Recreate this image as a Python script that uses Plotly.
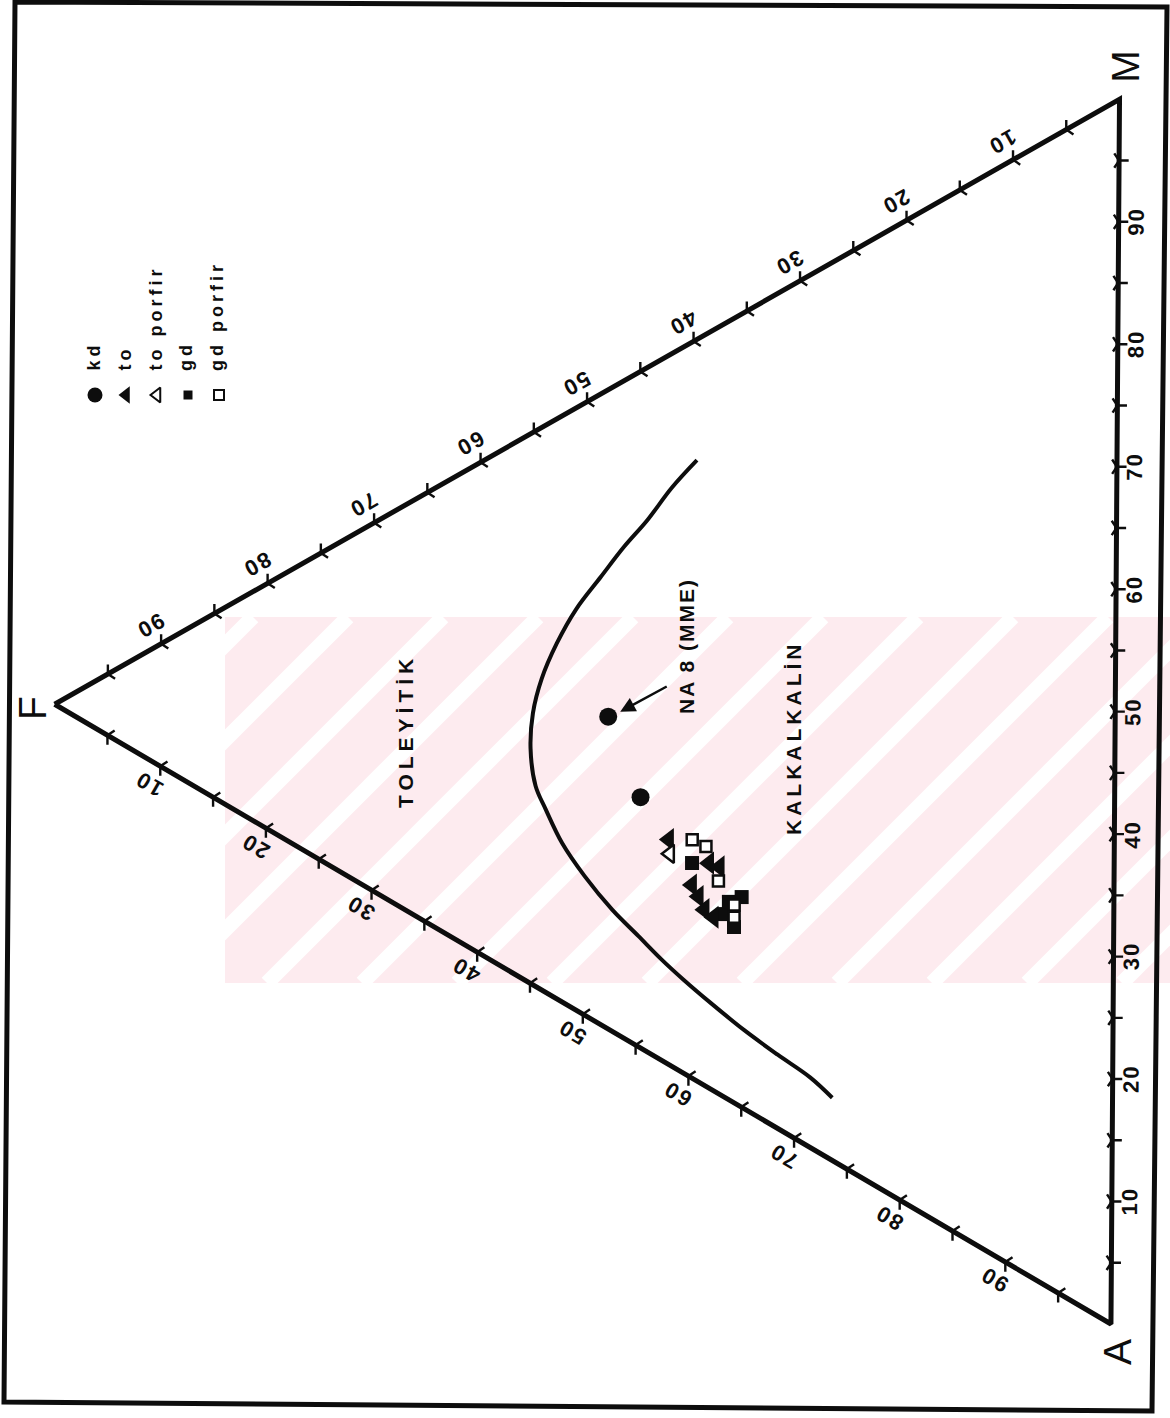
import math
import plotly.graph_objects as go

# ---------------- data (A, F, M in %) ----------------
CURVE_A = [9.9, 11.0, 12.5, 13.6, 15.0, 16.5, 18.4, 20.6, 23.0, 25.8, 29.1, 31.4, 35.0, 38.8,
           42.8, 46.2, 49.2, 51.9, 55.1, 58.8, 62.4, 65.8, 68.4]
CURVE_F = [39.6, 42.0, 44.2, 46.4, 48.6, 50.9, 52.7, 54.1, 54.9, 55.1, 54.6, 53.6, 52.0, 49.9,
           47.3, 44.8, 42.6, 40.5, 37.9, 34.8, 31.6, 28.5, 26.4]
CURVE_M = [50.5, 47.1, 43.2, 40.0, 36.4, 32.6, 28.9, 25.3, 22.1, 19.1, 16.3, 14.9, 12.9, 11.3,
           9.9, 9.0, 8.2, 7.6, 7.0, 6.4, 6.0, 5.7, 5.1]

KD_A = [26.8, 34.9]
KD_F = [47.8, 44.7]
KD_M = [25.4, 20.4]

TO_A = [39.7, 43.5, 44.3, 44.5, 45.8, 47.1, 48.1]
TO_F = [42.0, 38.2, 37.2, 39.8, 39.2, 38.6, 37.7]
TO_M = [18.3, 18.3, 18.5, 15.7, 15.1, 14.3, 14.1]

TOP_A = [40.9]
TOP_F = [41.9]
TOP_M = [17.2]

GD_A = [42.7, 47.8, 48.4, 49.9, 47.6]
GD_F = [39.8, 35.1, 36.7, 35.8, 36.3]
GD_M = [17.5, 17.1, 14.9, 14.3, 16.1]

GDP_A = [40.8, 42.0, 45.4, 48.1, 49.1]
GDP_F = [39.8, 38.5, 37.3, 35.8, 35.8]
GDP_M = [19.4, 19.5, 17.3, 16.1, 15.1]

TICK_STEPS = [5, 10, 15, 20, 25, 30, 35, 40, 45, 50, 55, 60, 65, 70, 75, 80, 85, 90, 95]
TICK_LABELS = [10, 20, 30, 40, 50, 60, 70, 80, 90]
VERTEX_NAMES = {"A": "A", "F": "F", "M": "M"}
LEGEND_NAMES = ["kd", "to", "to porfir", "gd", "gd porfir"]
REGION_THOL = "TOLEYİTİK"
REGION_CALC = "KALKALKALİN"
SAMPLE_NOTE = "NA 8 (MME)"

# ---------------- projection (ternary -> page, diagram rotated 90 deg) ----------------
W, H = 1170, 1418
SQ3 = math.sqrt(3)
SCALE = 1224.7
CX, CY = 761.7, 709.2
TILT = math.radians(0.4)


def project(a, f, m):
    t = a + f + m
    fn, mn = f / t, m / t
    u = mn + fn / 2.0
    v = fn * SQ3 / 2.0
    du, dv = u - 0.5, v - SQ3 / 6.0
    x0, y0 = -dv * SCALE, -du * SCALE
    x = x0 * math.cos(TILT) - y0 * math.sin(TILT)
    y = x0 * math.sin(TILT) + y0 * math.cos(TILT)
    return CX + x, CY + y


def proj_list(A, F, M):
    pts = [project(a, f, m) for a, f, m in zip(A, F, M)]
    return [p[0] for p in pts], [p[1] for p in pts]


FONT = "Liberation Sans, Arial, sans-serif"
INK = "#0d0d0d"

fig = go.Figure()

# ---------------- faint watermark (pink striped band) ----------------
shapes = []
WM_X0, WM_X1, WM_Y0, WM_Y1 = 225, 1170, 617, 983
shapes.append(dict(type="rect", xref="x", yref="y", x0=WM_X0, x1=WM_X1, y0=WM_Y0, y1=WM_Y1,
                   fillcolor="#fdebef", line=dict(width=0), layer="below"))
for k in range(-5, 11):
    c = 1250 + 95 * k
    shapes.append(dict(type="line", xref="x", yref="y", x0=c - WM_Y1, y0=WM_Y1, x1=c - WM_Y0, y1=WM_Y0,
                       line=dict(color="white", width=15), layer="below"))

# outer frame of the scanned page
shapes.append(dict(type="path", xref="x", yref="y",
                   path="M 15,2 L 1167,7 L 1152,1411 L 4,1402 Z",
                   line=dict(color=INK, width=5), layer="above"))

# ---------------- triangle ----------------
VA = project(100, 0, 0)
VF = project(0, 100, 0)
VM = project(0, 0, 100)
CEN = project(1, 1, 1)
fig.add_trace(go.Scatter(x=[VF[0], VM[0], VA[0], VF[0]], y=[VF[1], VM[1], VA[1], VF[1]],
                         mode="lines", line=dict(color=INK, width=5), hoverinfo="skip"))

# ---------------- ticks ----------------
EDGES = {
    "AM": (lambda v: (100 - v, 0, v), "y-right"),
    "FM": (lambda v: (0, v, 100 - v), "y-up"),
    "FA": (lambda v: (v, 100 - v, 0), "y-down"),
}
for key, (fn, sym) in EDGES.items():
    xs, ys = proj_list(*zip(*[fn(v) for v in TICK_STEPS]))
    fig.add_trace(go.Scatter(x=xs, y=ys, mode="markers", hoverinfo="skip",
                             marker=dict(symbol=sym, size=12, color=INK,
                                         line=dict(color=INK, width=2.4))))


def outward(p, q):
    dx, dy = q[0] - p[0], q[1] - p[1]
    L = math.hypot(dx, dy)
    nx, ny = -dy / L, dx / L
    mx, my = (p[0] + q[0]) / 2, (p[1] + q[1]) / 2
    if nx * (mx - CEN[0]) + ny * (my - CEN[1]) < 0:
        nx, ny = -nx, -ny
    return nx, ny


def ang(p, q, extra=0.0):
    a = math.degrees(math.atan2(q[1] - p[1], q[0] - p[0])) + extra
    while a > 180:
        a -= 360
    while a <= -180:
        a += 360
    return a


annotations = []
label_specs = [
    ("AM", outward(VA, VM), 18, ang(VA, VM)),
    ("FM", outward(VF, VM), 21, ang(VF, VM, 180)),
    ("FA", outward(VF, VA), 21, ang(VF, VA, 180)),
]
for key, (nx, ny), off, ta in label_specs:
    fn = EDGES[key][0]
    for v in TICK_LABELS:
        px, py = project(*fn(v))
        annotations.append(dict(
            x=px + nx * off, y=py + ny * off, xref="x", yref="y", showarrow=False,
            text='<span style="letter-spacing:2px">%d</span>' % v, textangle=ta,
            xanchor="center", yanchor="middle",
            font=dict(family=FONT, size=22, color=INK, weight="bold")))

# vertex letters
for name, vtx, (dx, dy) in [("F", VF, (-22, 4)), ("M", VM, (6, -33)), ("A", VA, (6, 28))]:
    annotations.append(dict(x=vtx[0] + dx, y=vtx[1] + dy, xref="x", yref="y", showarrow=False,
                            text=VERTEX_NAMES[name], textangle=-90, xanchor="center", yanchor="middle",
                            font=dict(family=FONT, size=39, color=INK)))

# ---------------- boundary curve ----------------
cx, cy = proj_list(CURVE_A, CURVE_F, CURVE_M)
fig.add_trace(go.Scatter(x=cx, y=cy, mode="lines", line=dict(color=INK, width=4, shape="spline"),
                         hoverinfo="skip"))

# ---------------- samples ----------------
x, y = proj_list(KD_A, KD_F, KD_M)
kd_xy = (x, y)
fig.add_trace(go.Scatter(x=x, y=y, mode="markers", name="kd",
                         marker=dict(symbol="circle", size=18, color=INK)))
x, y = proj_list(GD_A, GD_F, GD_M)
fig.add_trace(go.Scatter(x=x, y=y, mode="markers", name="gd",
                         marker=dict(symbol="square", size=14, color=INK)))
x, y = proj_list(TO_A, TO_F, TO_M)
fig.add_trace(go.Scatter(x=x, y=y, mode="markers", name="to",
                         marker=dict(symbol="triangle-left", size=20, color=INK)))
x, y = proj_list(TOP_A, TOP_F, TOP_M)
fig.add_trace(go.Scatter(x=x, y=y, mode="markers", name="to porfir",
                         marker=dict(symbol="triangle-left", size=16, color="white",
                                     line=dict(color=INK, width=2.5))))
x, y = proj_list(GDP_A, GDP_F, GDP_M)
fig.add_trace(go.Scatter(x=x, y=y, mode="markers", name="gd porfir",
                         marker=dict(symbol="square", size=11, color="white",
                                     line=dict(color=INK, width=2.5))))

# pointer to NA 8 (MME)
k0x, k0y = kd_xy[0][0], kd_xy[1][0]
annotations.append(dict(x=k0x + 12, y=k0y - 5, ax=k0x + 60, ay=k0y - 31, xref="x", yref="y",
                        axref="x", ayref="y", showarrow=True, arrowhead=2, arrowsize=1.2,
                        arrowwidth=2.5, arrowcolor=INK, text=""))
annotations.append(dict(x=k0x + 78, y=k0y - 71, xref="x", yref="y", showarrow=False,
                        text='<span style="letter-spacing:2px">%s</span>' % SAMPLE_NOTE, textangle=-90,
                        xanchor="center", yanchor="middle",
                        font=dict(family=FONT, size=21, color=INK, weight="bold")))

# region names
annotations.append(dict(x=405, y=731, xref="x", yref="y", showarrow=False,
                        text='<span style="letter-spacing:5px">%s</span>' % REGION_THOL, textangle=-90,
                        xanchor="center", yanchor="middle",
                        font=dict(family=FONT, size=21, color=INK, weight="bold")))
annotations.append(dict(x=793, y=738, xref="x", yref="y", showarrow=False,
                        text='<span style="letter-spacing:4px">%s</span>' % REGION_CALC, textangle=-90,
                        xanchor="center", yanchor="middle",
                        font=dict(family=FONT, size=21, color=INK, weight="bold")))

# ---------------- legend (drawn by hand, rotated like the diagram) ----------------
LEG_X0, LEG_DX, LEG_Y = 95, 31, 395
leg_styles = [
    dict(symbol="circle", size=15, color=INK),
    dict(symbol="triangle-left", size=15, color=INK),
    dict(symbol="triangle-left", size=13, color="white", line=dict(color=INK, width=2)),
    dict(symbol="square", size=9, color=INK),
    dict(symbol="square", size=10, color="white", line=dict(color=INK, width=2)),
]
for i, (nm, st) in enumerate(zip(LEGEND_NAMES, leg_styles)):
    lx = LEG_X0 + LEG_DX * i
    fig.add_trace(go.Scatter(x=[lx], y=[LEG_Y], mode="markers", marker=st, hoverinfo="skip"))
    annotations.append(dict(x=lx - 2, y=LEG_Y - 22, xref="x", yref="y", showarrow=False,
                            text='<span style="letter-spacing:4px">%s</span>' % nm, textangle=-90,
                            xanchor="center", yanchor="bottom",
                            font=dict(family=FONT, size=18, color=INK, weight="bold")))

fig.update_layout(
    width=W, height=H, margin=dict(l=0, r=0, t=0, b=0),
    paper_bgcolor="white", plot_bgcolor="white", showlegend=False,
    xaxis=dict(range=[0, W], visible=False, fixedrange=True),
    yaxis=dict(range=[H, 0], visible=False, fixedrange=True),
    shapes=shapes, annotations=annotations,
)

fig.write_html("out.html", config={"displayModeBar": False},
               post_script="document.body.style.margin='0px';document.body.style.overflow='hidden';")
